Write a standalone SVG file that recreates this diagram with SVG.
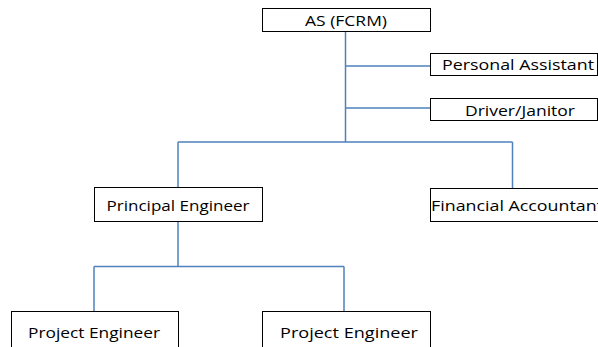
<svg xmlns="http://www.w3.org/2000/svg" width="598" height="347" viewBox="0 0 598 347">
<style>
.box{fill:#fff;stroke:#000;stroke-width:1}
.t{font-family:"Open Sans","Liberation Sans",sans-serif;font-size:14.5px;fill:#000;text-anchor:start}
.c{fill:none;stroke:#4F81BD;stroke-width:1.5}
</style>
<rect width="598" height="347" fill="#fff"/>
<g id="connectors">
<path class="c" d="M345.5 31V142M345.5 66H430M345.5 108H430M178 142H512.5M178 142V187M512.5 142V188M178 221V266.5M94 266.5H344M94 266.5V311M344 266.5V311"/>
</g>
<g id="as"><rect class="box" x="262.5" y="8.5" width="168" height="23"/><text class="t" x="305" y="26" textLength="82" lengthAdjust="spacingAndGlyphs">AS (FCRM)</text></g>
<g id="pa"><rect class="box" x="430.5" y="53.5" width="167" height="22"/><text class="t" x="442" y="70" textLength="152" lengthAdjust="spacingAndGlyphs">Personal Assistant</text></g>
<g id="dj"><rect class="box" x="430.5" y="98.5" width="167" height="22"/><text class="t" x="465" y="116" textLength="110" lengthAdjust="spacingAndGlyphs">Driver/Janitor</text></g>
<g id="pe"><rect class="box" x="94.5" y="187.5" width="168" height="34"/><text class="t" x="106.5" y="210.5" textLength="143" lengthAdjust="spacingAndGlyphs">Principal Engineer</text></g>
<g id="fa"><rect class="box" x="430.5" y="188.5" width="180" height="33"/><text class="t" x="431" y="211" textLength="172" lengthAdjust="spacingAndGlyphs">Financial Accountant</text></g>
<g id="pj1"><rect class="box" x="11.5" y="311.5" width="167" height="45"/><text class="t" x="28" y="337.5" textLength="132" lengthAdjust="spacingAndGlyphs">Project Engineer</text></g>
<g id="pj2"><rect class="box" x="262.5" y="311.5" width="168" height="45"/><text class="t" x="280" y="337.5" textLength="138" lengthAdjust="spacingAndGlyphs">Project Engineer</text></g>
</svg>
